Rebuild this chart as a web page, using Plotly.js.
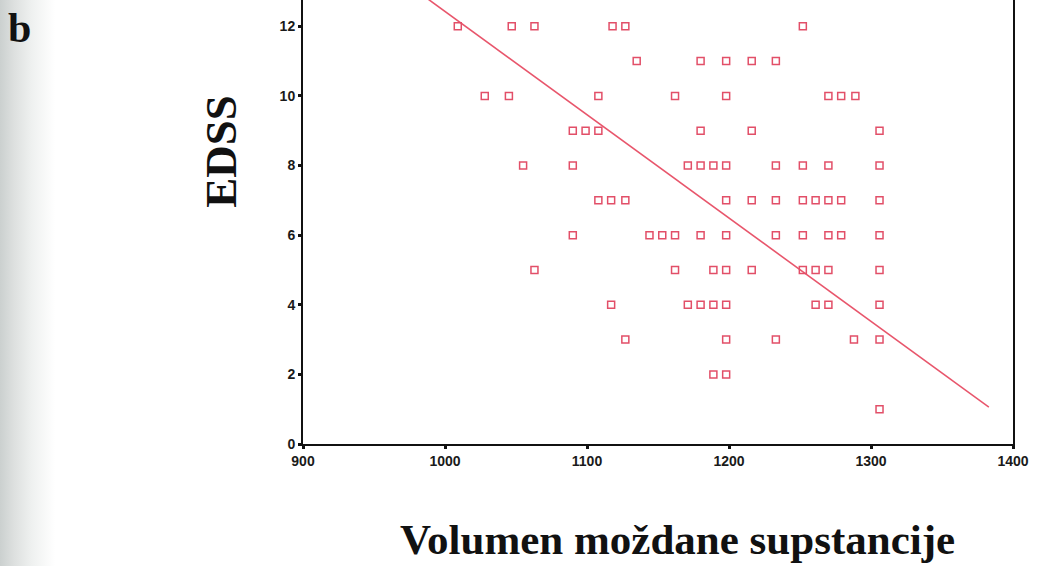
<!DOCTYPE html>
<html>
<head>
<meta charset="utf-8">
<script src="https://cdn.plot.ly/plotly-3.0.1.min.js"></script>
<style>
  html, body { margin: 0; padding: 0; background: #ffffff; }
  #chart {
    width: 1037px; height: 566px;
    background: linear-gradient(to right, #cbd0cf 0px, #dde0df 14px, #eff1f0 32px, #ffffff 55px);
  }
</style>
</head>
<body>
<div id="chart"></div>
<script>
// EDSS score (y) vs brain substance volume (x)
const edss = [
  12, 12, 12, 12, 12, 12,
  11, 11, 11, 11, 11,
  10, 10, 10, 10, 10, 10, 10, 10,
  9, 9, 9, 9, 9, 9,
  8, 8, 8, 8, 8, 8, 8, 8, 8, 8,
  7, 7, 7, 7, 7, 7, 7, 7, 7, 7, 7,
  6, 6, 6, 6, 6, 6, 6, 6, 6, 6, 6,
  5, 5, 5, 5, 5, 5, 5, 5, 5,
  4, 4, 4, 4, 4, 4, 4, 4,
  3, 3, 3, 3, 3,
  2, 2,
  1
];
const volumen = [
  1009, 1047, 1063, 1118, 1127, 1252,
  1135, 1180, 1198, 1216, 1233,
  1028, 1045, 1108, 1162, 1198, 1270, 1279, 1289,
  1090, 1099, 1108, 1180, 1216, 1306,
  1055, 1090, 1171, 1180, 1189, 1198, 1233, 1252, 1270, 1306,
  1108, 1117, 1127, 1198, 1216, 1233, 1252, 1261, 1270, 1279, 1306,
  1090, 1144, 1153, 1162, 1180, 1198, 1233, 1252, 1270, 1279, 1306,
  1063, 1162, 1189, 1198, 1216, 1252, 1261, 1270, 1306,
  1117, 1171, 1180, 1189, 1198, 1261, 1270, 1306,
  1127, 1198, 1233, 1288, 1306,
  1189, 1198,
  1306
];
// fitted line: end points
const fitX = [980, 1383];
const fitY = [13.02, 1.06];

const xTicks = [900, 1000, 1100, 1200, 1300, 1400];
const yTicks = [0, 2, 4, 6, 8, 10, 12];

const W = 1037, H = 566;
const M = { l: 303, r: 24, t: 0, b: 121.5 };
const pw = W - M.l - M.r, ph = H - M.t - M.b;
const px = (x) => (x - M.l) / pw;
const py = (y) => 1 - (y - M.t) / ph;

const serif = 'Liberation Serif, Times New Roman, serif';
const sans = 'Liberation Sans, Arial, Helvetica, sans-serif';

const traces = [
  {
    type: 'scatter', mode: 'lines',
    x: fitX, y: fitY,
    line: { color: '#e8566c', width: 1.6 },
    hoverinfo: 'skip', showlegend: false
  },
  {
    type: 'scatter', mode: 'markers',
    x: volumen, y: edss,
    marker: { symbol: 'square-open', size: 7, color: '#e24f68', line: { width: 1.5, color: '#e24f68' } },
    showlegend: false, cliponaxis: false
  }
];

const tickFont = { family: sans, size: 14, color: '#1a1a1a', weight: 'bold' };

const layout = {
  width: W, height: H,
  margin: M,
  paper_bgcolor: 'rgba(0,0,0,0)',
  plot_bgcolor: 'rgba(0,0,0,0)',
  showlegend: false,
  xaxis: {
    range: [900, 1400],
    tickvals: xTicks, ticktext: xTicks.map(String),
    showgrid: false, zeroline: false,
    showline: true, linecolor: '#111', linewidth: 2,
    ticks: 'outside', ticklen: 3, tickwidth: 3, tickcolor: '#111',
    tickfont: tickFont,
    mirror: false, fixedrange: true
  },
  yaxis: {
    range: [0, 12.755],
    tickvals: yTicks, ticktext: yTicks.map(String),
    showgrid: false, zeroline: false,
    showline: true, linecolor: '#111', linewidth: 2,
    ticks: 'outside', ticklen: 3, tickwidth: 3, tickcolor: '#111',
    tickfont: tickFont,
    mirror: true, fixedrange: true
  },
  annotations: [
    {
      text: '<b>EDSS</b>', textangle: -90,
      xref: 'paper', yref: 'paper', x: px(221), y: py(152),
      xanchor: 'center', yanchor: 'middle', showarrow: false,
      font: { family: serif, size: 45, color: '#111' }
    },
    {
      text: '<b>Volumen moždane supstancije</b>',
      xref: 'paper', yref: 'paper', x: px(677), y: py(540),
      xanchor: 'center', yanchor: 'middle', showarrow: false,
      font: { family: serif, size: 43, color: '#111' }
    },
    {
      text: '<b>b</b>',
      xref: 'paper', yref: 'paper', x: px(19), y: py(28),
      xanchor: 'center', yanchor: 'middle', showarrow: false,
      font: { family: serif, size: 42, color: '#111' }
    }
  ]
};

Plotly.newPlot('chart', traces, layout, { staticPlot: true, displayModeBar: false });
</script>
</body>
</html>
